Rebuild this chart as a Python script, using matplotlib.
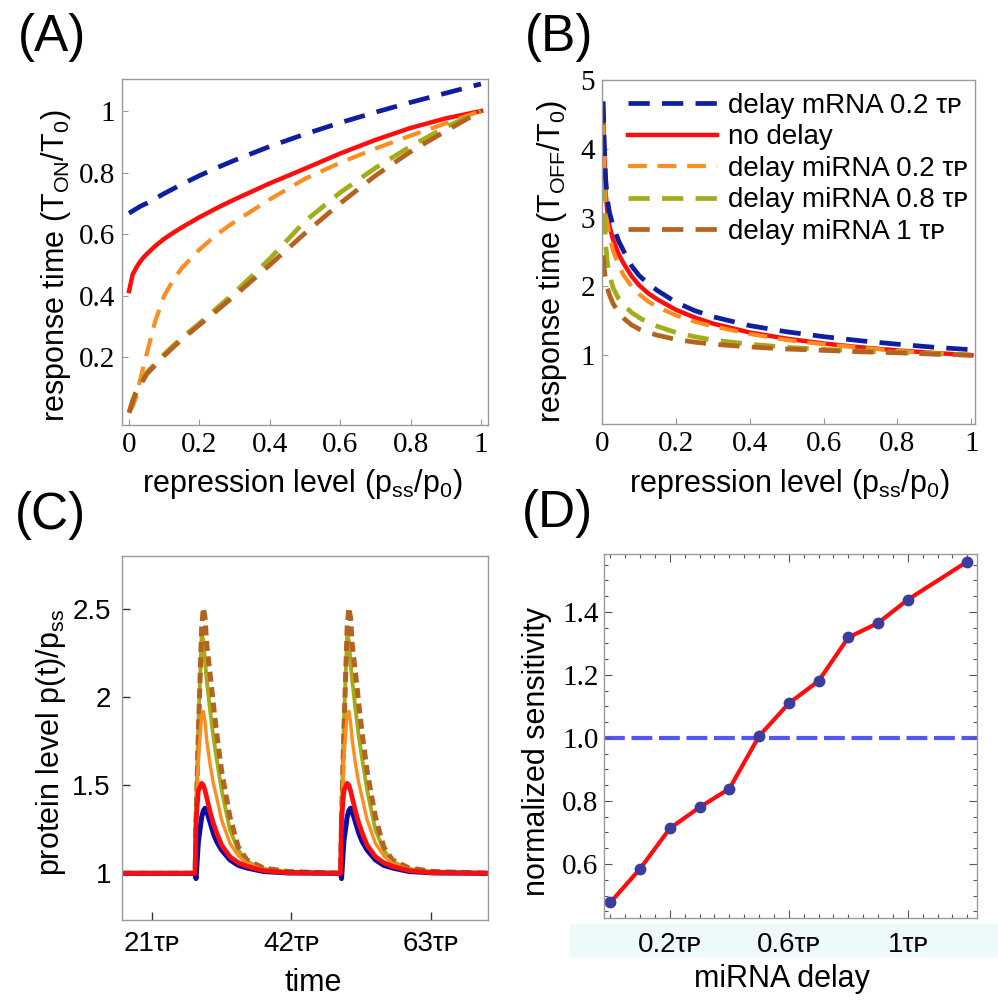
"""Four-panel figure: response times (A, B), pulse response (C), sensitivity vs miRNA delay (D)."""
import matplotlib
matplotlib.use("Agg")
import matplotlib.pyplot as plt
from matplotlib.patches import Rectangle
from matplotlib.ticker import MultipleLocator

plt.rcParams['font.family'] = ['Liberation Sans', 'DejaVu Sans']
plt.rcParams['mathtext.fontset'] = 'custom'
plt.rcParams['mathtext.rm'] = 'Liberation Sans'
plt.rcParams['mathtext.it'] = 'Liberation Sans:italic'
plt.rcParams['mathtext.bf'] = 'Liberation Sans:bold'

# ---- data ----
# (A) T_ON/T0 vs repression level
a_x = [0, 0.01, 0.02, 0.03, 0.04, 0.05, 0.075, 0.1, 0.125, 0.15, 0.2, 0.25, 0.3, 0.4, 0.5, 0.6, 0.7, 0.8, 0.9, 1.0]
a_mrna02 = [0.668, 0.675, 0.682, 0.689, 0.695, 0.70, 0.716, 0.732, 0.747, 0.762, 0.79, 0.816, 0.84,
            0.885, 0.925, 0.962, 0.996, 1.028, 1.058, 1.088]
a_nodelay = [0.415, 0.468, 0.49, 0.508, 0.523, 0.535, 0.562, 0.585, 0.604, 0.622, 0.655, 0.685, 0.713,
             0.765, 0.813, 0.862, 0.906, 0.945, 0.976, 1.0]
a_mirna02 = [0.02, 0.04, 0.07, 0.12, 0.165, 0.21, 0.32, 0.40, 0.45, 0.49, 0.55, 0.60, 0.64,
             0.713, 0.78, 0.832, 0.878, 0.92, 0.96, 1.0]
a_mirna08 = [0.02, 0.06, 0.09, 0.11, 0.13, 0.15, 0.18, 0.21, 0.237, 0.263, 0.31, 0.36, 0.41,
             0.52, 0.642, 0.735, 0.815, 0.885, 0.948, 1.0]
a_mirna1 = [0.02, 0.055, 0.085, 0.105, 0.125, 0.145, 0.175, 0.205, 0.232, 0.258, 0.305, 0.352, 0.40,
            0.5, 0.603, 0.70, 0.79, 0.868, 0.935, 1.0]

# (B) T_OFF/T0 vs repression level
b_x = [0.003, 0.006, 0.01, 0.015, 0.02, 0.03, 0.045, 0.06, 0.08, 0.1, 0.125, 0.15, 0.2, 0.25, 0.3,
       0.4, 0.5, 0.6, 0.7, 0.8, 0.9, 1.0]
b_mrna02 = [4.69, 4.1, 3.55, 3.25, 3.08, 2.88, 2.66, 2.5, 2.3, 2.16, 2.04, 1.94, 1.77, 1.65, 1.56,
            1.43, 1.34, 1.27, 1.21, 1.16, 1.115, 1.08]
b_nodelay = [4.6, 3.95, 3.35, 3.05, 2.88, 2.68, 2.47, 2.32, 2.15, 2.02, 1.9, 1.81, 1.66, 1.55, 1.46,
             1.33, 1.24, 1.17, 1.115, 1.07, 1.033, 1.0]
b_mirna02 = [4.35, 3.75, 3.2, 2.9, 2.74, 2.52, 2.3, 2.15, 2.0, 1.89, 1.78, 1.7, 1.58, 1.49, 1.42,
             1.31, 1.22, 1.16, 1.11, 1.065, 1.03, 1.0]
b_mirna08 = [3.55, 3.0, 2.6, 2.33, 2.17, 1.98, 1.82, 1.72, 1.62, 1.55, 1.47, 1.42, 1.33, 1.27, 1.22,
             1.16, 1.115, 1.085, 1.06, 1.04, 1.02, 1.0]
b_mirna1 = [2.45, 2.25, 2.1, 1.97, 1.88, 1.75, 1.62, 1.53, 1.44, 1.38, 1.33, 1.29, 1.23, 1.19, 1.16,
            1.12, 1.09, 1.07, 1.05, 1.035, 1.015, 1.0]

# (C) protein level p(t)/pss: one pulse profile per curve, repeated at each pulse onset
c_tmin, c_tmax = 16.5, 71.6
c_pulse_starts = [27.5, 49.4]
c_dt = [0, 0.15, 0.5, 1.0, 1.25, 1.5, 1.75, 2.25, 2.75, 3.25, 4.0, 5.25, 6.5, 7.8, 10.3, 14.0]
c_mrna02 = [1.0, 0.97, 1.18, 1.32, 1.355, 1.369, 1.35, 1.29, 1.227, 1.18, 1.132, 1.076, 1.045, 1.03, 1.01, 1.002]
c_nodelay = [1.0, 1.3, 1.47, 1.51, 1.50, 1.47, 1.43, 1.35, 1.284, 1.23, 1.16, 1.094, 1.06, 1.04, 1.015, 1.003]
c_mirna02 = [1.0, 1.3, 1.65, 1.9, 1.918, 1.86, 1.757, 1.62, 1.511, 1.43, 1.303, 1.17, 1.1, 1.057, 1.019, 1.004]
c_mirna08 = [1.0, 1.35, 1.85, 2.354, 2.32, 2.2, 2.098, 1.93, 1.776, 1.65, 1.473, 1.246, 1.132, 1.066, 1.025, 1.008]
c_mirna1 = [1.0, 1.3, 1.8, 2.4, 2.506, 2.45, 2.3, 2.136, 1.96, 1.795, 1.58, 1.32, 1.15, 1.076, 1.03, 1.01]
c_ticks = [21, 42, 63]

# (D) normalized sensitivity vs miRNA delay (units of tau_P)
d_delay = [0, 0.1, 0.2, 0.3, 0.4, 0.5, 0.6, 0.7, 0.8, 0.9, 1.0, 1.2]
d_sens = [0.478, 0.585, 0.713, 0.780, 0.839, 1.006, 1.110, 1.181, 1.319, 1.365, 1.439, 1.560]
d_xticks = [0.2, 0.6, 1.0]
d_yticks = [0.6, 0.8, 1.0, 1.2, 1.4]

# ---- style ----
BLUE, RED, ORANGE, OLIVE, BROWN = "#0d1ea0", "#ff0d0d", "#ff8c1e", "#a3ad1a", "#b5621f"
FRAME = "#9a9a9a"
SERIF = "Liberation Serif"
SANS = ["Liberation Sans", "DejaVu Sans"]
TP = "τᴘ"

W, H = 998, 1001
def rect(l, t, r, b):
    return [l / W, 1 - b / H, (r - l) / W, (b - t) / H]
def fx(px): return px / W
def fy(py): return 1 - py / H

def frame(ax):
    for s in ax.spines.values():
        s.set_color(FRAME); s.set_linewidth(1.0)

def label_font(labels, family, size):
    for t in labels:
        t.set_fontfamily(family); t.set_fontsize(size)

fig = plt.figure(figsize=(W / 100, H / 100), dpi=100)

dash = dict(ls=(0, (4.5, 2.6)), lw=3.4)
series_ab = [  # label, colour, style
    (f"delay mRNA 0.2 {TP}", BLUE, dash),
    ("no delay", RED, dict(ls="-", lw=3.2)),
    (f"delay miRNA 0.2 {TP}", ORANGE, dict(ls=(0, (4.5, 2.6)), lw=3.0)),
    (f"delay miRNA 0.8 {TP}", OLIVE, dash),
    (f"delay miRNA 1 {TP}", BROWN, dash),
]
x01 = [0, 0.2, 0.4, 0.6, 0.8, 1]
x01_lab = ["0", "0.2", "0.4", "0.6", "0.8", "1"]

# ---- (A) ----
axA = fig.add_axes(rect(122, 79, 488, 425))
ys_a = [a_mrna02, a_nodelay, a_mirna02, a_mirna08, a_mirna1]
for i in [1, 2, 3, 4, 0]:
    lab, col, st = series_ab[i]
    axA.plot(a_x, ys_a[i], color=col, **st)
axA.set_xlim(-0.02, 1.02); axA.set_ylim(-0.02, 1.104)
axA.set_xticks(x01, x01_lab)
axA.set_yticks([0.2, 0.4, 0.6, 0.8, 1], ["0.2", "0.4", "0.6", "0.8", "1"])

# ---- (B) ----
axB = fig.add_axes(rect(602, 80, 975, 424))
ys_b = [b_mrna02, b_nodelay, b_mirna02, b_mirna08, b_mirna1]
handles = {}
for i in [1, 2, 3, 4, 0]:
    lab, col, st = series_ab[i]
    handles[i], = axB.plot(b_x, ys_b[i], color=col, label=lab, **st)
axB.set_xlim(0, 1.01); axB.set_ylim(0, 5)
axB.set_xticks(x01, x01_lab)
axB.set_yticks([1, 2, 3, 4, 5], ["1", "2", "3", "4", "5"])
axB.legend(handles=[handles[i] for i in range(5)], loc="upper left",
           bbox_to_anchor=(0.07, 0.963), frameon=False, prop=dict(family=SANS, size=20),
           handlelength=3.2, handletextpad=0.4, labelspacing=0.2,
           borderpad=0, borderaxespad=0)

for ax in (axA, axB):
    frame(ax)
    ax.tick_params(direction="in", length=4, width=0.8, color=FRAME, pad=5)
    label_font(ax.get_xticklabels() + ax.get_yticklabels(), SERIF, 21)

# ---- (C) ----
axC = fig.add_axes(rect(122, 556, 488, 920))
c_series = [(c_mirna08, OLIVE, dict(ls="-", lw=2.8)),
            (c_mirna1, BROWN, dict(ls=(0, (2.0, 1.1)), lw=3.6)),
            (c_mirna02, ORANGE, dict(ls="-", lw=2.4)),
            (c_mrna02, "#0a0aa8", dict(ls="-", lw=3.6)),
            (c_nodelay, RED, dict(ls="-", lw=3.4))]
for vals, col, st in c_series:
    t = [c_tmin]; v = [1.0]
    for s in c_pulse_starts:
        t += [s + d for d in c_dt]; v += list(vals)
    t.append(c_tmax); v.append(1.0)
    axC.plot(t, v, color=col, **st)
axC.set_xlim(c_tmin, c_tmax); axC.set_ylim(0.735, 2.8)
axC.set_xticks(c_ticks, [f"{k}{TP}" for k in c_ticks])
axC.set_yticks([1, 1.5, 2, 2.5], ["1", "1.5", "2", "2.5"])
frame(axC)
axC.tick_params(direction="in", length=6, width=1.0, color="#333333", pad=8)
label_font(axC.get_xticklabels() + axC.get_yticklabels(), SANS, 20)

# ---- (D) ----
axD = fig.add_axes(rect(604, 554, 977, 918))
axD.axhline(1.0, color="#5555f2", lw=3.0, ls=(0, (5, 1.6)), zorder=1)
axD.plot(d_delay, d_sens, color=RED, lw=3.0, marker="o", ms=7.5,
         mfc="#3c3c9c", mec="#3c3c9c", zorder=2)
axD.set_xlim(-0.0214, 1.2326); axD.set_ylim(0.4286, 1.584)
axD.set_xticks(d_xticks, [f"{k:g}{TP}" for k in d_xticks])
axD.set_yticks(d_yticks, [f"{k:.1f}" for k in d_yticks])
axD.xaxis.set_minor_locator(MultipleLocator(0.05))
axD.yaxis.set_minor_locator(MultipleLocator(0.05))
frame(axD)
axD.tick_params(which="both", direction="in", top=True, right=True, color="#555555", width=0.8)
axD.tick_params(which="major", length=6)
axD.tick_params(which="minor", length=3)
axD.tick_params(axis="y", pad=4)
axD.tick_params(axis="x", pad=10)
label_font(axD.get_yticklabels(), SERIF, 21)
label_font(axD.get_xticklabels(), SANS, 20)
fig.add_artist(Rectangle((fx(570), fy(956)), (W - 570) / W, 32 / H,
                         transform=fig.transFigure, color="#eefafa", zorder=-1))

# ---- axis labels and panel letters ----
LBL = 22
fig.text(fx(302), fy(484), r"repression level (p$_{\mathrm{ss}}$/p$_{0}$)", fontsize=LBL, ha="center", va="center")
fig.text(fx(789), fy(484), r"repression level (p$_{\mathrm{ss}}$/p$_{0}$)", fontsize=LBL, ha="center", va="center")
fig.text(fx(56), fy(266), r"response time (T$_{\mathrm{ON}}$/T$_{0}$)", fontsize=LBL, ha="center", va="center", rotation=90)
fig.text(fx(552), fy(261), r"response time (T$_{\mathrm{OFF}}$/T$_{0}$)", fontsize=LBL, ha="center", va="center", rotation=90)
fig.text(fx(51), fy(743), r"protein level p(t)/p$_{\mathrm{ss}}$", fontsize=LBL, ha="center", va="center", rotation=90)
fig.text(fx(313), fy(983), "time", fontsize=LBL, ha="center", va="center")
fig.text(fx(537), fy(751), "normalized sensitivity", fontsize=LBL, ha="center", va="center", rotation=90)
fig.text(fx(782), fy(979), "miRNA delay", fontsize=LBL, ha="center", va="center")

for lab, x, y in [("(A)", 52, 38), ("(B)", 559, 38), ("(C)", 50, 515), ("(D)", 557, 513)]:
    fig.text(fx(x), fy(y), lab, fontsize=37, ha="center", va="center")

fig.savefig("out.png", dpi=100)
